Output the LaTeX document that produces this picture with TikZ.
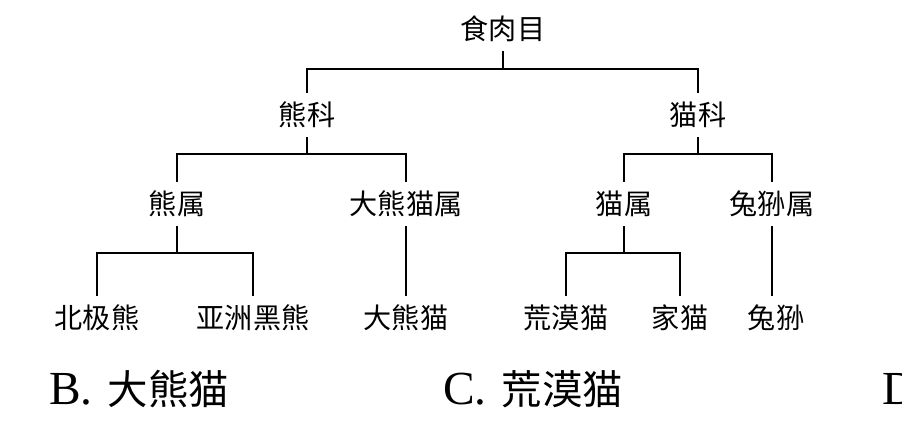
\documentclass[tikz,border=0pt]{standalone}
\usepackage{fontspec}
\setmainfont{Liberation Serif}
\newfontfamily\cjk{Noto Sans CJK SC}

\begin{document}
\begin{tikzpicture}[x=0.02cm, y=-0.02cm,
        taxon/.style={font=\cjk\fontsize{16}{16}\selectfont, inner sep=0pt, minimum height=0.88cm},
        branch/.style={line width=1.1pt},
        answer/.style={font=\fontsize{27}{27}\selectfont, anchor=base west, inner sep=0pt}]
                \useasboundingbox (0,0) rectangle (902,421);

                % Order and families
                \node[taxon] (root) at (503,29) {食肉目};
                \node[taxon] (xk) at (307,115) {熊科};
                \node[taxon] (mk) at (698,115) {猫科};

                % Genera
                \node[taxon] (xs) at (177,204) {熊属};
                \node[taxon] (dxms) at (406,204) {大熊猫属};
                \node[taxon] (ms) at (624,204) {猫属};
                \node[taxon] (tss) at (772,204) {兔狲属};

                % Species
                \node[taxon] (bjx) at (97,318) {北极熊};
                \node[taxon] (yzhx) at (253,318) {亚洲黑熊};
                \node[taxon] (dxm) at (406,318) {大熊猫};
                \node[taxon] (hmm) at (566,318) {荒漠猫};
                \node[taxon] (jm) at (680,318) {家猫};
                \node[taxon] (ts) at (776,318) {兔狲};

                % Bar heights
                \coordinate (b0) at (0,69);
                \coordinate (b1) at (0,154);
                \coordinate (b2) at (0,253);

                % Branches
                \draw[branch] (root.south) -- (root.south |- b0) -| (xk.north);
                \draw[branch] (root.south |- b0) -| (mk.north);
                \draw[branch] (xk.south) -- (xk.south |- b1) -| (xs.north);
                \draw[branch] (xk.south |- b1) -| (dxms.north);
                \draw[branch] (mk.south) -- (mk.south |- b1) -| (ms.north);
                \draw[branch] (mk.south |- b1) -| (tss.north);
                \draw[branch] (xs.south) -- (xs.south |- b2) -| (bjx.north);
                \draw[branch] (xs.south |- b2) -| (yzhx.north);
                \draw[branch] (dxms.south) -- (dxms.south |- dxm.north);
                \draw[branch] (ms.south) -- (ms.south |- b2) -| (hmm.north);
                \draw[branch] (ms.south |- b2) -| (jm.north);
                \draw[branch] (tss.south) -- (tss.south |- ts.north);

                % Answer options
                \node[answer] (optB) at (49,405) {B.\hspace{0.3cm}{\cjk\fontsize{23}{23}\selectfont 大熊猫}};
                \node[answer] (optC) at (443,405) {C.\hspace{0.3cm}{\cjk\fontsize{23}{23}\selectfont 荒漠猫}};
                \node[answer] (optD) at (882,405) {D};

            \end{tikzpicture}
\end{document}
